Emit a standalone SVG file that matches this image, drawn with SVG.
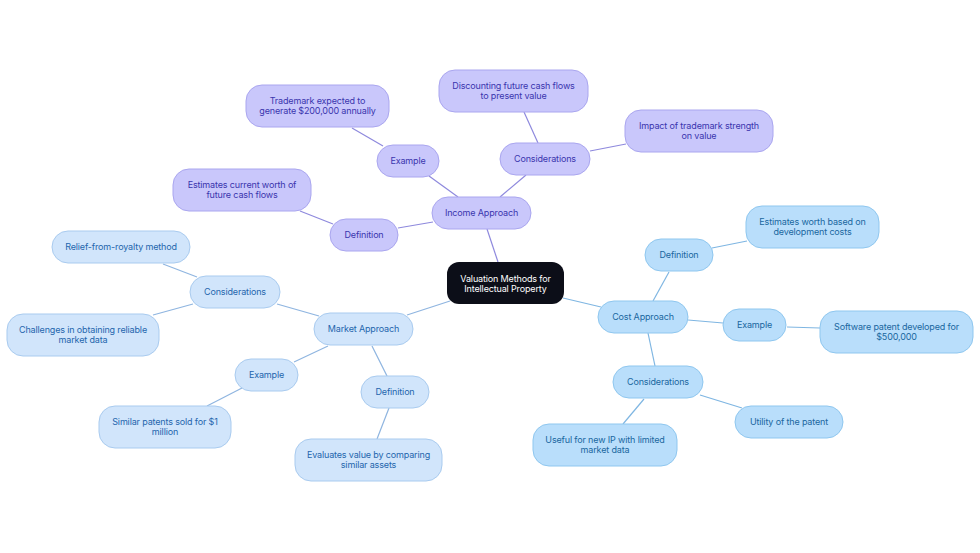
<svg xmlns="http://www.w3.org/2000/svg" width="980" height="553" viewBox="0 0 980 553">
<style>
text{font-family:Inter,"Noto Sans","Liberation Sans",sans-serif;font-size:9px;text-anchor:middle;letter-spacing:-0.15px}
.inc rect{fill:#c9c7fb;stroke:#aaa6ef;stroke-width:1}
.inc text{fill:#3a35ae}
.mkt rect{fill:#d1e5fb;stroke:#a9cbef;stroke-width:1}
.mkt text{fill:#2465ad}
.cst rect{fill:#b9defb;stroke:#8fc7ef;stroke-width:1}
.cst text{fill:#19679f}
.root rect{fill:#0c0e18}
.root text{fill:#ffffff}
.ci line{stroke:#8e89dd;stroke-width:1.2}
.cm line{stroke:#8fb5e0;stroke-width:1.2}
.cc line{stroke:#7fb6e2;stroke-width:1.2}
</style>
<rect width="980" height="553" fill="#ffffff"/>
<g id="connectors">
<g class="ci">
<line x1="487" y1="229" x2="498" y2="262"/>
<line x1="458" y1="197" x2="429" y2="176"/>
<line x1="383" y1="146" x2="352" y2="128"/>
<line x1="500" y1="197" x2="526" y2="175"/>
<line x1="538" y1="143" x2="524" y2="112"/>
<line x1="433" y1="222" x2="398" y2="228"/>
<line x1="333" y1="224" x2="300" y2="211"/>
<line x1="590" y1="151" x2="626" y2="144"/>
</g>
<g class="cm">
<line x1="450" y1="301" x2="407" y2="315"/>
<line x1="319" y1="316" x2="277" y2="304"/>
<line x1="197" y1="277" x2="163" y2="264"/>
<line x1="193" y1="304" x2="153" y2="315"/>
<line x1="328" y1="346" x2="294" y2="362"/>
<line x1="372" y1="346" x2="387" y2="376"/>
<line x1="242" y1="388" x2="207" y2="406"/>
<line x1="389" y1="408" x2="377" y2="439"/>
</g>
<g class="cc">
<line x1="563" y1="298" x2="601" y2="307"/>
<line x1="653" y1="301" x2="669" y2="272"/>
<line x1="712" y1="248" x2="747" y2="241"/>
<line x1="688" y1="320" x2="723" y2="323"/>
<line x1="787" y1="327" x2="820" y2="328"/>
<line x1="648" y1="333" x2="655" y2="366"/>
<line x1="700" y1="395" x2="742" y2="408"/>
<line x1="644" y1="399" x2="623" y2="424"/>
</g>
</g>
<g id="root" class="root">
<rect x="447" y="262" width="117" height="42" rx="12"/>
<text x="505.5" y="282">Valuation Methods for</text>
<text x="505.5" y="292">Intellectual Property</text>
</g>
<g id="income" class="inc">
<rect x="432" y="197" width="99" height="32" rx="16"/>
<text x="481.5" y="216">Income Approach</text>
</g>
<g id="income-example" class="inc">
<rect x="377" y="145" width="62" height="32" rx="16"/>
<text x="408" y="164">Example</text>
</g>
<g id="income-example-text" class="inc">
<rect x="246" y="85" width="143" height="42" rx="16"/>
<text x="317.5" y="104">Trademark expected to</text>
<text x="317.5" y="114">generate $200,000 annually</text>
</g>
<g id="income-considerations" class="inc">
<rect x="500" y="143" width="90" height="32" rx="16"/>
<text x="545" y="161.5">Considerations</text>
</g>
<g id="income-discounting" class="inc">
<rect x="439" y="70" width="149" height="42" rx="16"/>
<text x="513.5" y="89">Discounting future cash flows</text>
<text x="513.5" y="99">to present value</text>
</g>
<g id="income-impact" class="inc">
<rect x="625" y="110" width="148" height="42" rx="16"/>
<text x="699" y="129">Impact of trademark strength</text>
<text x="699" y="139">on value</text>
</g>
<g id="income-definition" class="inc">
<rect x="330" y="219" width="68" height="32" rx="16"/>
<text x="364" y="237.5">Definition</text>
</g>
<g id="income-definition-text" class="inc">
<rect x="173" y="169" width="138" height="42" rx="16"/>
<text x="242" y="188">Estimates current worth of</text>
<text x="242" y="198">future cash flows</text>
</g>
<g id="market" class="mkt">
<rect x="314" y="313" width="99" height="32" rx="16"/>
<text x="363.5" y="332">Market Approach</text>
</g>
<g id="market-considerations" class="mkt">
<rect x="190" y="276" width="90" height="32" rx="16"/>
<text x="235" y="294.5">Considerations</text>
</g>
<g id="market-relief" class="mkt">
<rect x="52" y="231" width="138" height="32" rx="16"/>
<text x="121" y="250">Relief-from-royalty method</text>
</g>
<g id="market-challenges" class="mkt">
<rect x="7" y="314" width="152" height="42" rx="16"/>
<text x="83" y="333">Challenges in obtaining reliable</text>
<text x="83" y="343">market data</text>
</g>
<g id="market-example" class="mkt">
<rect x="235" y="359" width="63" height="32" rx="16"/>
<text x="266.5" y="378">Example</text>
</g>
<g id="market-example-text" class="mkt">
<rect x="99" y="406" width="132" height="42" rx="16"/>
<text x="165" y="425">Similar patents sold for $1</text>
<text x="165" y="435">million</text>
</g>
<g id="market-definition" class="mkt">
<rect x="361" y="376" width="68" height="32" rx="16"/>
<text x="395" y="394.5">Definition</text>
</g>
<g id="market-definition-text" class="mkt">
<rect x="295" y="439" width="147" height="42" rx="16"/>
<text x="368.5" y="458">Evaluates value by comparing</text>
<text x="368.5" y="468">similar assets</text>
</g>
<g id="cost" class="cst">
<rect x="598" y="301" width="90" height="32" rx="16"/>
<text x="643" y="320">Cost Approach</text>
</g>
<g id="cost-definition" class="cst">
<rect x="645" y="239" width="68" height="32" rx="16"/>
<text x="679" y="258">Definition</text>
</g>
<g id="cost-definition-text" class="cst">
<rect x="746" y="206" width="133" height="42" rx="16"/>
<text x="812.5" y="225">Estimates worth based on</text>
<text x="812.5" y="235">development costs</text>
</g>
<g id="cost-example" class="cst">
<rect x="723" y="309" width="63" height="32" rx="16"/>
<text x="754.5" y="328">Example</text>
</g>
<g id="cost-example-text" class="cst">
<rect x="820" y="311" width="153" height="42" rx="16"/>
<text x="896.5" y="330">Software patent developed for</text>
<text x="896.5" y="340">$500,000</text>
</g>
<g id="cost-considerations" class="cst">
<rect x="613" y="366" width="90" height="32" rx="16"/>
<text x="658" y="385">Considerations</text>
</g>
<g id="cost-utility" class="cst">
<rect x="735" y="406" width="108" height="32" rx="16"/>
<text x="789" y="425">Utility of the patent</text>
</g>
<g id="cost-useful" class="cst">
<rect x="533" y="424" width="144" height="42" rx="16"/>
<text x="605" y="443">Useful for new IP with limited</text>
<text x="605" y="453">market data</text>
</g>
</svg>
